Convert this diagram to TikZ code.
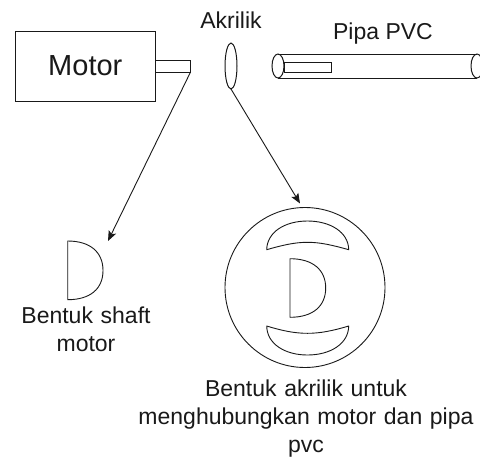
\documentclass[tikz,border=0pt]{standalone}
\usepackage{fontspec}
\setmainfont{Liberation Sans}
\usetikzlibrary{shapes.geometric,arrows.meta}
\definecolor{ink}{RGB}{25,25,25}
\tikzset{
  part/.style={draw=ink,line width=1pt,fill=white,inner sep=0pt,outer sep=0pt},
  oval/.style={part,ellipse},
  outlined/.style={draw=ink,line width=0.9pt,line join=round},
  link/.style={draw=ink,line width=0.9pt,-{Stealth[length=10pt,width=8pt,inset=2pt]}},
  lbl/.style={inner sep=0pt,text=ink,font=\fontsize{23}{27.6}\selectfont,align=center}
}
\begin{document}
\begin{tikzpicture}[x=1pt,y=-1pt]
\useasboundingbox (0,0) rectangle (480,456);
\clip (0,0) rectangle (480,456);
% motor
\node[part,minimum width=140.5pt,minimum height=70pt,font=\fontsize{29}{34}\selectfont,text=ink] (motor) at (85.3,66) {Motor};
\node[part,minimum width=35pt,minimum height=12pt,anchor=west] (shaft) at (motor.east |- 0,66) {};
% acrylic disc
\node[oval,minimum width=12pt,minimum height=46pt] (disc) at (231,66) {};
\node[lbl] (lakr) at (231,20) {Akrilik};
% pipe
\node[oval,minimum width=12pt,minimum height=24pt] (pipeL) at (278,66) {};
\node[oval,minimum width=12pt,minimum height=24pt] (pipeR) at (477,66) {};
\draw[draw=ink,line width=1pt] (pipeL.north) -- (pipeR.north) (pipeL.south) -- (pipeR.south);
\node[part,fill=none,minimum width=47pt,minimum height=10pt,anchor=west] (inner) at (284,67) {};
\node[lbl] (lpipa) at (383,34) {Pipa PVC};
% small D
\coordinate (dtip) at (108,241);
\draw[outlined] (67.7,241) .. controls (90,241) and (103,252) .. (103,270.5) .. controls (103,289) and (90,299.7) .. (67.7,299.7) -- cycle;
\node[lbl,text width=170pt] (lshaft) at (86,329) {Bentuk shaft\\motor};
% big round
\node[draw=ink,line width=0.9pt,circle,minimum size=160pt,inner sep=0pt,outer sep=0pt] (round) at (305,287.5) {};
\coordinate (rtip) at (300,203.5);
\draw[outlined] (266.7,249.7) .. controls (267,232) and (285,221) .. (307.5,221) .. controls (330,221) and (348.5,232) .. (348.7,249.7) .. controls (332,245) and (320,242.3) .. (307.5,242.3) .. controls (295,242.3) and (283,245) .. (266.7,249.7) -- cycle;
\draw[outlined] (266.7,326) .. controls (267,344) and (285,355) .. (307.5,355) .. controls (330,355) and (348.5,344) .. (348.7,326) .. controls (332,331) and (320,333.3) .. (307.5,333.3) .. controls (295,333.3) and (283,331) .. (266.7,326) -- cycle;
\draw[outlined] (290,258.7) .. controls (313,258.7) and (325.7,270) .. (325.7,288) .. controls (325.7,306) and (313,317.3) .. (290,317.3) -- cycle;
\node[lbl,text width=346pt] (lakril) at (306,418.5) {Bentuk akrilik untuk\\menghubungkan motor dan pipa\\pvc};
% connectors
\draw[link] (shaft.south east) -- (dtip);
\draw[link] (disc.south) -- (rtip);
\end{tikzpicture}
\end{document}
